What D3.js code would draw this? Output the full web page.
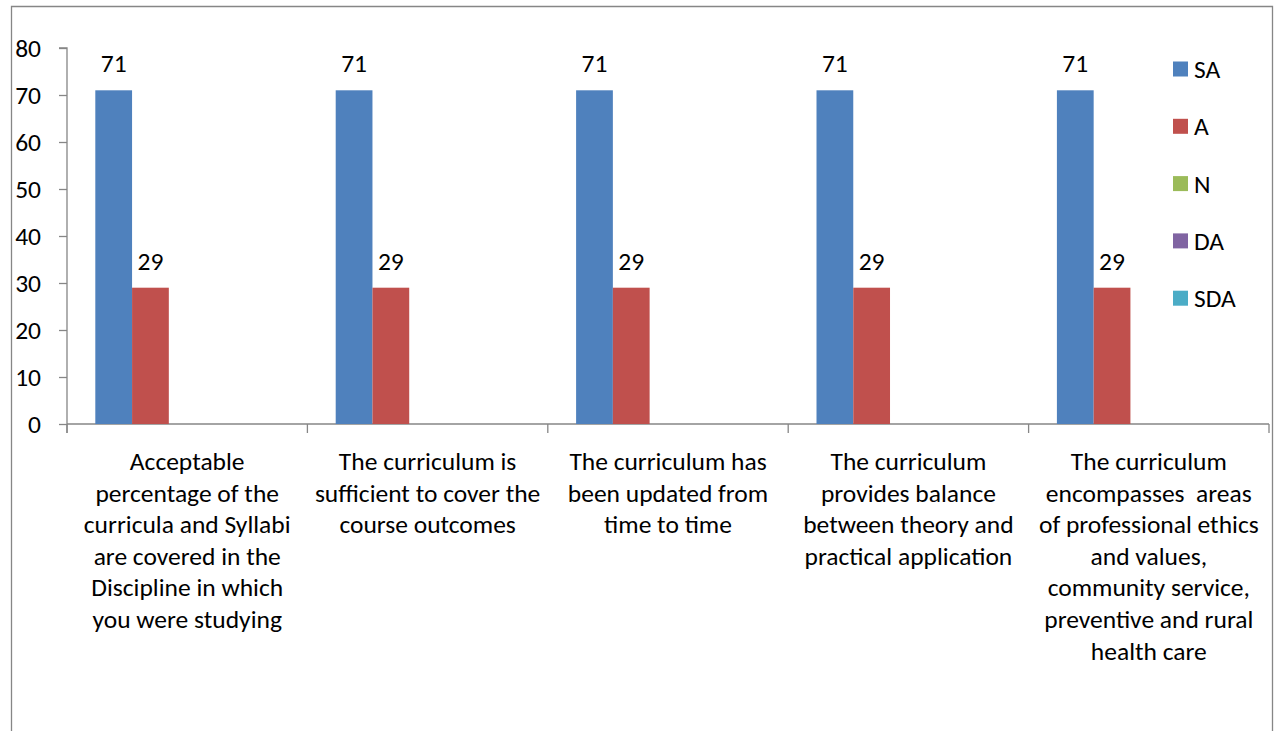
<!DOCTYPE html>
<html><head><meta charset="utf-8">
<script src="https://cdn.jsdelivr.net/npm/d3@7"></script>
<style>
html,body{margin:0;padding:0;background:#fff;}
svg{display:block;}
text{font-family:Carlito, Lato, "Open Sans", sans-serif; fill:#000; white-space:pre;}
</style></head>
<body>
<svg id="chart" width="1275" height="731"></svg>
<script>
const categories = [
  "Acceptable\npercentage of the\ncurricula and Syllabi\nare covered in the\nDiscipline in which\nyou were studying",
  "The curriculum is\nsufficient to cover the\ncourse outcomes",
  "The curriculum has\nbeen updated from\ntime to time",
  "The curriculum\nprovides balance\nbetween theory and\npractical application",
  "The curriculum\nencompasses  areas\nof professional ethics\nand values,\ncommunity service,\npreventive and rural\nhealth care"
];
const seriesNames = ["SA", "A", "N", "DA", "SDA"];
const SA  = [71, 71, 71, 71, 71];
const A   = [29, 29, 29, 29, 29];
const N   = [0, 0, 0, 0, 0];
const DA  = [0, 0, 0, 0, 0];
const SDA = [0, 0, 0, 0, 0];
const yTicks = [0, 10, 20, 30, 40, 50, 60, 70, 80];
const colors = ["#4F81BD", "#C0504D", "#9BBB59", "#8064A2", "#4BACC6"];

const seriesValues = [SA, A, N, DA, SDA];
const svg = d3.select("#chart");
const FS = "25.5px";

// outer frame
svg.append("path")
  .attr("d", "M11.5,740 L11.5,6.5 L1272.5,6.5 L1272.5,740")
  .attr("fill", "none").attr("stroke", "#868686").attr("stroke-width", 1.3);

const plot = {left: 67, right: 1269, top: 48, bottom: 424};
const y = d3.scaleLinear().domain([0, 80]).range([plot.bottom, plot.top]);
const x0 = d3.scaleBand().domain(d3.range(categories.length)).range([plot.left, plot.right]).padding(0);
const x1 = d3.scaleBand().domain(seriesNames).range([0, x0.bandwidth()]).paddingInner(0).paddingOuter(0.77);

// y axis
const yAxis = d3.axisLeft(y).tickValues(yTicks).tickSize(8).tickPadding(18).tickFormat(d3.format("d"));
const gy = svg.append("g").attr("transform", `translate(${plot.left},0)`).call(yAxis);
gy.select(".domain").attr("stroke", "#868686").attr("stroke-width", 1.3)
  .attr("d", `M-8,${plot.top}H0V${plot.bottom + 9}`);
gy.selectAll(".tick line").attr("stroke", "#868686").attr("stroke-width", 1.3);
gy.selectAll(".tick text").style("font-size", FS).style("font-family", "Carlito, Lato, 'Open Sans', sans-serif").attr("fill", "#000").attr("dy", "0.35em");

// x axis
const gx = svg.append("g");
gx.append("line").attr("x1", plot.left).attr("x2", plot.right).attr("y1", y(0)).attr("y2", y(0))
  .attr("stroke", "#868686").attr("stroke-width", 1.3);
const boundaries = d3.range(categories.length + 1).map(i => i < categories.length ? x0(i) : x0(categories.length - 1) + x0.bandwidth());
gx.selectAll(".xt").data(boundaries).join("line").attr("class", "xt")
  .attr("x1", d => d).attr("x2", d => d).attr("y1", y(0)).attr("y2", y(0) + 9)
  .attr("stroke", "#868686").attr("stroke-width", 1.3);

// bars
const groups = svg.append("g").selectAll("g").data(categories.map((c, i) => i)).join("g")
  .attr("transform", i => `translate(${x0(i)},0)`);
groups.selectAll("rect").data(i => seriesNames.map((s, k) => ({s, k, v: seriesValues[k][i]})))
  .join("rect")
  .attr("x", d => x1(d.s)).attr("width", x1.bandwidth())
  .attr("y", d => y(d.v)).attr("height", d => y(0) - y(d.v))
  .attr("fill", d => colors[d.k]);

// data labels (non-zero only)
groups.selectAll("text.lbl").data(i => seriesNames.map((s, k) => ({s, k, v: seriesValues[k][i]})).filter(d => d.v > 0))
  .join("text").attr("class", "lbl")
  .attr("x", d => x1(d.s) + x1.bandwidth() / 2)
  .attr("y", d => y(d.v) - 18)
  .attr("text-anchor", "middle")
  .style("font-size", FS)
  .text(d => d.v);

// category labels
const lineH = 31.6;
svg.append("g").selectAll("text").data(categories).join("text")
  .attr("text-anchor", "middle")
  .style("font-size", FS)
  .attr("transform", (c, i) => `translate(${x0(i) + x0.bandwidth() / 2},${470})`)
  .each(function(c) {
    const t = d3.select(this);
    c.split("\n").forEach((ln, j) => {
      t.append("tspan").attr("x", 0).attr("y", j * lineH).text(ln);
    });
  });

// legend
const legend = svg.append("g").selectAll("g").data(seriesNames).join("g")
  .attr("transform", (d, i) => `translate(1173,${69 + i * 57.3})`);
legend.append("rect").attr("x", 0).attr("y", -7.5).attr("width", 15).attr("height", 15)
  .attr("fill", (d, i) => colors[i]);
legend.append("text").attr("x", 21).attr("y", 0).attr("dy", "0.35em")
  .style("font-size", FS).text(d => d);
</script>
</body></html>
